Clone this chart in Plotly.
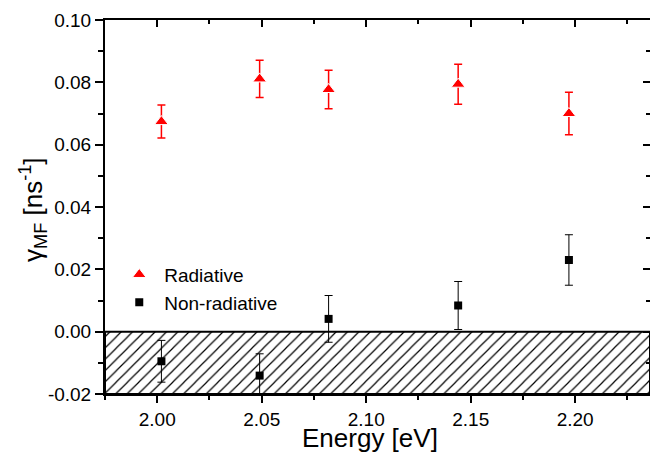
import plotly.graph_objects as go

# Photon energies of the measured lines [eV]
energy_rad = [2.002, 2.049, 2.082, 2.144, 2.197]
energy_nonrad = [2.002, 2.049, 2.082, 2.144, 2.197]

# Mean-field decay rates [ns^-1] with their uncertainties
gamma_rad = [0.0674, 0.0811, 0.0777, 0.0794, 0.0700]
err_rad = [0.0053, 0.0060, 0.0062, 0.0064, 0.0068]
gamma_nonrad = [-0.0095, -0.0141, 0.0041, 0.0084, 0.0230]
err_nonrad = [0.0067, 0.0070, 0.0075, 0.0077, 0.0081]

x_range = [1.975, 2.2358]
y_range = [-0.02, 0.10]
x_ticks = [2.00, 2.05, 2.10, 2.15, 2.20]
y_ticks = [-0.02, 0.00, 0.02, 0.04, 0.06, 0.08, 0.10]

x_title = "Energy [eV]"
y_title = "γ<sub>MF</sub> [ns<sup>-1</sup>]"

font_family = "Liberation Sans, Arial, sans-serif"
tick_font = dict(family=font_family, size=19, color="black")

fig = go.Figure()

# Hatched band marking the unphysical negative-rate region
fig.add_trace(go.Scatter(
    x=[x_range[0], x_range[1], x_range[1], x_range[0], x_range[0]],
    y=[0, 0, y_range[0], y_range[0], 0],
    mode="lines",
    fill="toself",
    fillcolor="white",
    fillpattern=dict(shape="/", fgcolor="black", fgopacity=1, bgcolor="white",
                     size=8, solidity=0.15),
    line=dict(color="black", width=2),
    hoverinfo="skip",
    showlegend=False,
))

fig.add_trace(go.Scatter(
    x=energy_rad, y=gamma_rad,
    mode="markers",
    name="Radiative",
    marker=dict(symbol="triangle-up", size=12, color="red",
                line=dict(color="white", width=1)),
    error_y=dict(type="data", array=err_rad, color="red", thickness=1.5, width=4),
))

fig.add_trace(go.Scatter(
    x=energy_nonrad, y=gamma_nonrad,
    mode="markers",
    name="Non-radiative",
    marker=dict(symbol="square", size=8, color="black"),
    error_y=dict(type="data", array=err_nonrad, color="black", thickness=1, width=4),
))

# Placeholder trace so the top/right tick axes are drawn
fig.add_trace(go.Scatter(x=[None], y=[None], xaxis="x2", yaxis="y2",
                         showlegend=False, hoverinfo="skip"))

axis_common = dict(showgrid=False, zeroline=False, linecolor="black",
                   tickcolor="black", tickwidth=1.5)

fig.update_layout(
    width=650, height=454,
    margin=dict(l=105, r=0, t=20, b=60),
    paper_bgcolor="white", plot_bgcolor="white",
    font=dict(family=font_family, size=19, color="black"),
    xaxis=dict(
        range=x_range, tickvals=x_ticks, ticktext=[f"{v:.2f}" for v in x_ticks],
        tickfont=tick_font,
        ticks="outside", ticklen=7, showline=True, linewidth=2,
        minor=dict(dtick=0.025, tick0=2.0, ticks="outside", ticklen=4, tickcolor="black"),
        automargin=False,
        **axis_common,
    ),
    yaxis=dict(
        range=y_range, tickvals=y_ticks, ticktext=[f"{v:.2f}" for v in y_ticks],
        tickfont=tick_font,
        ticks="outside", ticklen=8, showline=True, linewidth=2,
        minor=dict(dtick=0.01, tick0=0, ticks="outside", ticklen=5, tickcolor="black"),
        automargin=False,
        **axis_common,
    ),
    xaxis2=dict(
        overlaying="x", side="top", range=x_range, tickvals=x_ticks,
        showticklabels=False, ticks="inside", ticklen=7, showline=True, linewidth=2,
        minor=dict(dtick=0.025, tick0=2.0, ticks="inside", ticklen=4, tickcolor="black"),
        **axis_common,
    ),
    yaxis2=dict(
        overlaying="y", side="right", range=y_range, tickvals=y_ticks,
        showticklabels=False, ticks="inside", ticklen=7, showline=False,
        minor=dict(dtick=0.01, tick0=0, ticks="inside", ticklen=4, tickcolor="black"),
        **axis_common,
    ),
    legend=dict(
        x=0.017, y=0.37, xanchor="left", yanchor="top",
        bgcolor="rgba(0,0,0,0)", borderwidth=0,
        font=dict(family=font_family, size=19), itemwidth=40, tracegroupgap=0,
    ),
    showlegend=True,
    annotations=[
        dict(text=x_title, xref="paper", yref="paper", x=0.486, y=0,
             xanchor="center", yanchor="middle", yshift=-44, showarrow=False,
             font=dict(family=font_family, size=26)),
        dict(text=y_title, xref="paper", yref="paper", x=0, y=0.492,
             xanchor="center", yanchor="middle", xshift=-72, textangle=-90,
             showarrow=False, font=dict(family=font_family, size=26)),
    ],
)

fig.write_html("out.html")
